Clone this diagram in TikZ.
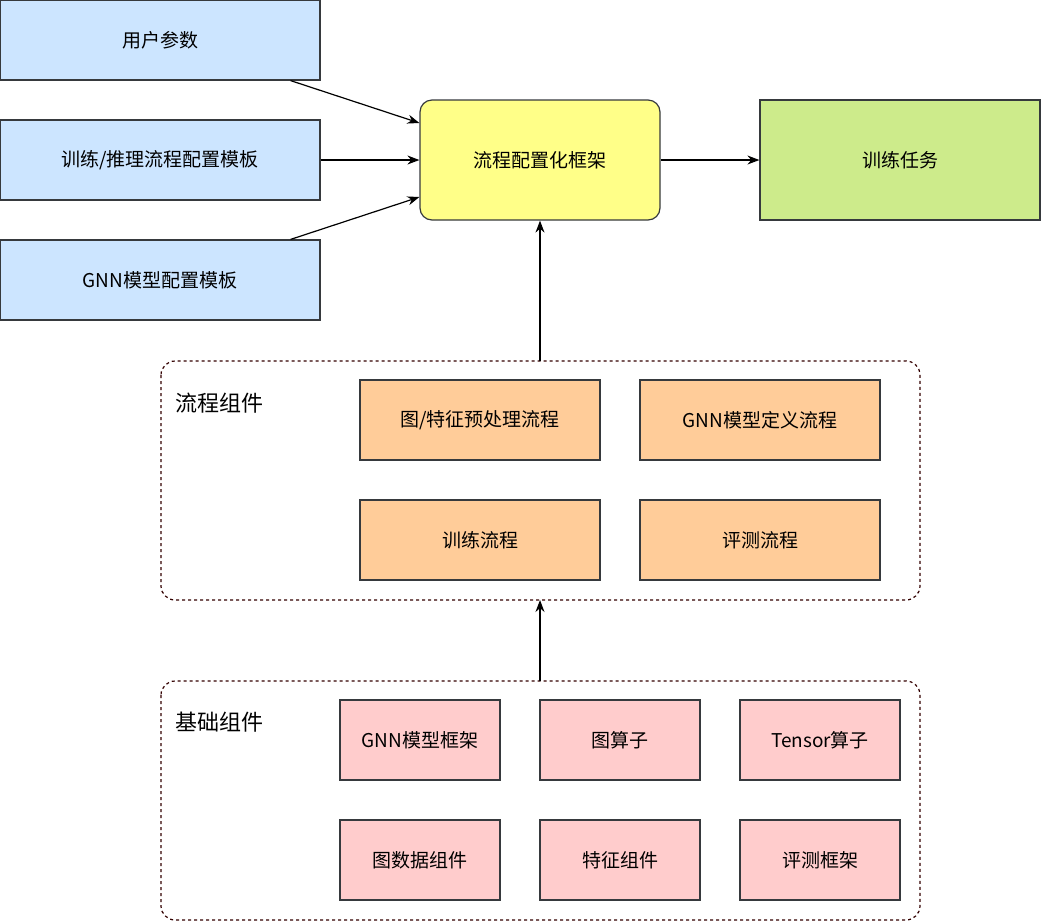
\documentclass[tikz,border=0pt]{standalone}
\usepackage{fontspec}
\setmainfont{Noto Sans CJK SC}
\usetikzlibrary{arrows.meta,positioning}

\definecolor{boxline}{HTML}{36393D}
\definecolor{bluefill}{HTML}{CCE5FF}
\definecolor{yellowfill}{HTML}{FFFF88}
\definecolor{greenfill}{HTML}{CDEB8B}
\definecolor{orangefill}{HTML}{FFCC99}
\definecolor{pinkfill}{HTML}{FFCCCC}
\definecolor{groupline}{HTML}{330000}

\tikzset{
  box/.style={draw=boxline,line width=1.2pt,inner sep=0pt,font=\fontsize{19}{22}\selectfont},
  inbox/.style={box,fill=bluefill,minimum width=320pt,minimum height=80pt},
  corebox/.style={box,fill=yellowfill,rounded corners=12pt,minimum width=240pt,minimum height=120pt},
  taskbox/.style={box,fill=greenfill,minimum width=280pt,minimum height=120pt},
  flowbox/.style={box,fill=orangefill,minimum width=240pt,minimum height=80pt},
  basebox/.style={box,fill=pinkfill,minimum width=160pt,minimum height=80pt},
  groupbox/.style={draw=groupline,line width=1.2pt,dashed,rounded corners=14pt},
  grouplabel/.style={anchor=west,font=\fontsize{22}{26}\selectfont},
  link/.style={-{Stealth[length=12pt,width=9pt]},line width=1.2pt}
}

\begin{document}
\begin{tikzpicture}[x=1pt,y=-1pt]
  \useasboundingbox (0,0) rectangle (1042,922);

  % input templates
  \node[inbox] (params) at (160,40) {用户参数};
  \node[inbox] (flowtpl) at (160,160) {训练/推理流程配置模板};
  \node[inbox] (gnntpl) at (160,280) {GNN模型配置模板};

  \node[corebox] (frame) at (540,160) {流程配置化框架};
  \node[taskbox] (task) at (900,160) {训练任务};

  % flow components
  \draw[groupbox] (161,361) rectangle (920,600);
  \node[grouplabel] at (172,403) {流程组件};
  \coordinate (flowtop) at (540,361);
  \coordinate (flowbot) at (540,600);
  \node[flowbox] (prep) at (480,420) {图/特征预处理流程};
  \node[flowbox] (gnndef) at (760,420) {GNN模型定义流程};
  \node[flowbox] (train) at (480,540) {训练流程};
  \node[flowbox] (eval) at (760,540) {评测流程};

  % base components
  \draw[groupbox] (161,681) rectangle (920,920);
  \node[grouplabel] at (172,722) {基础组件};
  \coordinate (basetop) at (540,681);
  \node[basebox] (gnnframe) at (420,740) {GNN模型框架};
  \node[basebox] (graphop) at (620,740) {图算子};
  \node[basebox] (tensorop) at (820,740) {Tensor算子};
  \node[basebox] (graphdata) at (420,860) {图数据组件};
  \node[basebox] (feature) at (620,860) {特征组件};
  \node[basebox] (evalframe) at (820,860) {评测框架};

  % connectors
  \draw[link] (params.south east) ++(-30,0) -- (frame.west |- 0,123);
  \draw[link] (flowtpl) -- (frame);
  \draw[link] (gnntpl.north east) ++(-30,0) -- (frame.west |- 0,197);
  \draw[link] (frame) -- (task);
  \draw[link] (flowtop) -- (frame);
  \draw[link] (basetop) -- (flowbot);
\end{tikzpicture}
\end{document}
